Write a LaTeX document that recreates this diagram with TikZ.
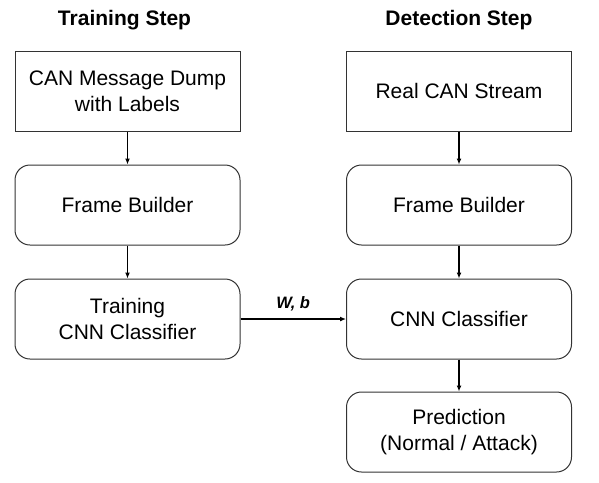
\documentclass[tikz,border=0pt]{standalone}
\usepackage{fontspec}
\setmainfont{Liberation Sans}
\usetikzlibrary{arrows.meta}
\begin{document}
\begin{tikzpicture}[x=1pt,y=-1pt,
  box/.style={draw=black!80, line width=1pt, minimum width=225pt, minimum height=80pt, align=center, font=\fontsize{21}{26}\selectfont, inner sep=0pt},
  rbox/.style={box, rounded corners=15pt},
  title/.style={font=\fontsize{21}{25}\selectfont\bfseries},
  arr/.style={line width=1.2pt, -{Latex[length=6pt,width=5pt]}}]
\useasboundingbox (0,0) rectangle (599,482);
\node[title] (t1) at (124.5,20) {Training Step};
\node[title] (t2) at (459,20) {Detection Step};
\node[box] (a1) at (127.5,91) {CAN Message Dump\\with Labels};
\node[rbox] (a2) at (127.5,205) {Frame Builder};
\node[rbox] (a3) at (127.5,319) {Training\\CNN Classifier};
\node[box] (b1) at (459,91) {Real CAN Stream};
\node[rbox] (b2) at (459,205) {Frame Builder};
\node[rbox] (b3) at (459,319) {CNN Classifier};
\node[rbox] (b4) at (459,432) {Prediction\\(Normal / Attack)};
\draw[arr] (a1) -- (a2);
\draw[arr] (a2) -- (a3);
\draw[arr] (b1) -- (b2);
\draw[arr] (b2) -- (b3);
\draw[arr] (b3) -- (b4);
\draw[arr] (a3) -- node[above=4pt, font=\fontsize{16.5}{18}\selectfont\bfseries\itshape] {W, b} (b3);
\end{tikzpicture}
\end{document}
